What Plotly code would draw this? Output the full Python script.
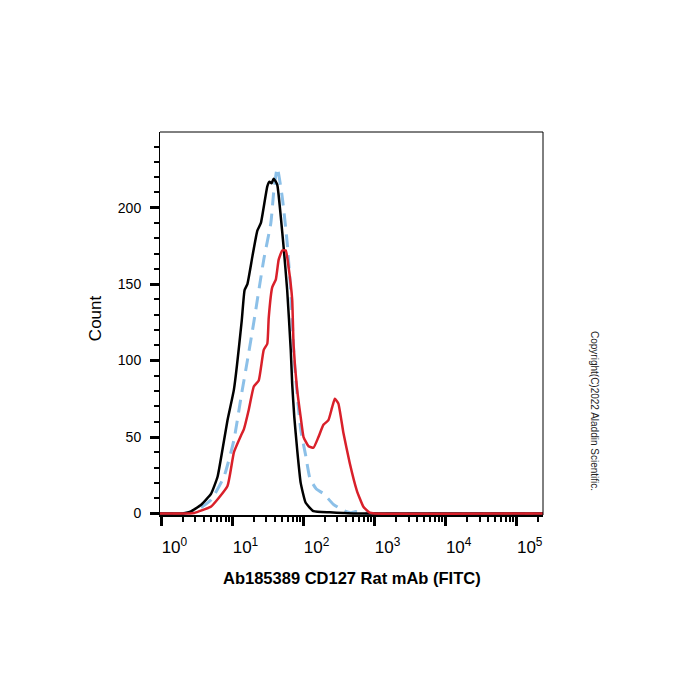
import numpy as np
import plotly.graph_objects as go

# ---- data ----
# x positions are log10 of FITC intensity
black_logx = [-0.02, 0.30, 0.40, 0.56, 0.70, 0.79, 0.86, 0.93, 1.02, 1.13, 1.17, 1.21, 1.28, 1.35,
              1.40, 1.49, 1.52, 1.55, 1.58, 1.63, 1.68, 1.72, 1.77, 1.82, 1.84, 1.87, 1.91,
              1.96, 2.03, 2.14, 2.37, 2.56, 2.70, 5.37]
black_count = [0, 0, 1, 5.7, 13, 24, 42, 61, 81, 126, 146, 150, 168, 185,
               190, 214, 217, 216, 219, 215, 194, 174, 146, 107, 85, 63, 42,
               20, 7, 1.5, 0.8, 0.3, 0, 0]

blue_logx = [-0.02, 0.30, 0.37, 0.56, 0.70, 0.88, 1.02, 1.12, 1.21, 1.30, 1.44, 1.54, 1.58, 1.63,
             1.70, 1.77, 1.82, 1.87, 1.96, 2.03, 2.09, 2.18, 2.28, 2.42, 2.56, 2.66, 2.72,
             2.80, 2.90, 5.37]
blue_count = [0, 0, 0.5, 4, 9, 24, 48, 76, 100, 125, 166, 190, 210, 226,
              207, 177, 145, 100, 55, 38, 23, 16, 13, 6, 2, 0.5, 1.2,
              1, 0, 0]

red_logx = [-0.02, 0.40, 0.46, 0.70, 0.93, 1.02, 1.12, 1.16, 1.23, 1.30, 1.37, 1.44, 1.49, 1.51,
            1.56, 1.61, 1.65, 1.70, 1.75, 1.79, 1.84, 1.86, 1.91, 1.96, 2.00, 2.07, 2.14,
            2.21, 2.28, 2.35, 2.40, 2.44, 2.49, 2.56, 2.65, 2.75, 2.84, 2.93, 3.00, 5.37]
red_count = [0, 0, 0.3, 4.6, 18, 40, 51, 55, 68, 83, 87, 107, 111, 128,
             148, 153, 166, 172, 172, 161, 140, 110, 81, 63, 50, 44, 43,
             50, 58, 61, 69, 75, 72, 53, 33, 15, 4.6, 0.5, 0, 0]

x_major = [1, 10, 100, 1000, 10000, 100000]
x_major_text = ["10<sup>0</sup>", "10<sup>1</sup>", "10<sup>2</sup>",
                "10<sup>3</sup>", "10<sup>4</sup>", "10<sup>5</sup>"]
y_major = [0, 50, 100, 150, 200]

x_title = "Ab185389 CD127 Rat mAb (FITC)"
y_title = "Count"
copyright_text = "Copyright(C)2022 Aladdin Scientific."

# minor ticks
x_minor = [m * d for d in [1, 10, 100, 1000, 10000, 100000] for m in range(2, 10)]
x_minor = [v for v in x_minor if v < 10 ** 5.37]
y_minor = [v for v in range(0, 250, 10) if v % 50 != 0]

def tx(logs):
    return [10 ** v for v in logs]

fig = go.Figure()
fig.add_trace(go.Scatter(x=tx(blue_logx), y=blue_count, mode="lines",
                         line=dict(color="#8cc0e8", width=3, dash="13px,8px",
                                   shape="spline", smoothing=0.5),
                         hoverinfo="skip"))
fig.add_trace(go.Scatter(x=tx(black_logx), y=black_count, mode="lines",
                         line=dict(color="#000000", width=2.5, shape="spline", smoothing=0.4),
                         hoverinfo="skip"))
fig.add_trace(go.Scatter(x=tx(red_logx), y=red_count, mode="lines",
                         line=dict(color="#d9202a", width=2.5, shape="spline", smoothing=0.4),
                         hoverinfo="skip"))

font_family = "Liberation Sans, Arial, sans-serif"

fig.update_layout(
    width=700, height=700,
    margin=dict(l=160, r=157, t=132, b=185),
    paper_bgcolor="white", plot_bgcolor="white",
    showlegend=False,
    font=dict(family=font_family, color="black"),
    xaxis=dict(
        type="log", range=[-0.02, 5.37],
        tickvals=x_major, ticktext=x_major_text,
        ticks="outside", ticklen=9, tickwidth=3, tickcolor="black",
        showgrid=False, zeroline=False,
        showline=True, linecolor="black", linewidth=2,
        tickfont=dict(size=17, family=font_family, color="black"),
        ticklabelshift=13, ticklabelstandoff=7,
        minor=dict(tickvals=x_minor, ticks="outside", ticklen=5, tickwidth=1.5,
                   tickcolor="black", showgrid=False),
    ),
    yaxis=dict(
        range=[-1, 249.5],
        tickvals=y_major,
        ticks="outside", ticklen=9, tickwidth=3, tickcolor="black",
        showgrid=False, zeroline=False,
        showline=True, linecolor="black", linewidth=1,
        tickfont=dict(size=14, family=font_family, color="black"),
        ticklabelstandoff=6,
        minor=dict(tickvals=y_minor, ticks="outside", ticklen=5, tickwidth=1.5,
                   tickcolor="black", showgrid=False),
    ),
    shapes=[
        dict(type="line", xref="paper", yref="paper", x0=0, x1=1, y0=1, y1=1,
             line=dict(color="black", width=1)),
        dict(type="line", xref="paper", yref="paper", x0=1, x1=1, y0=0, y1=1,
             line=dict(color="black", width=1)),
    ],
    annotations=[
        dict(text=x_title, xref="paper", yref="paper", x=0.5, y=-0.1645,
             showarrow=False, xanchor="center", yanchor="middle",
             font=dict(size=16.5, family=font_family, color="black", weight="bold")),
        dict(text=y_title, xref="paper", yref="paper", x=-0.1697, y=0.514,
             showarrow=False, xanchor="center", yanchor="middle", textangle=-90,
             font=dict(size=17, family=font_family, color="black")),
        dict(text=copyright_text, xref="paper", yref="paper",
             x=(595 - 160) / 383, y=(515 - 411) / 383,
             showarrow=False, xanchor="center", yanchor="middle", textangle=90,
             font=dict(size=10, family=font_family, color="#222222")),
    ],
)

fig.write_html("out.html")
